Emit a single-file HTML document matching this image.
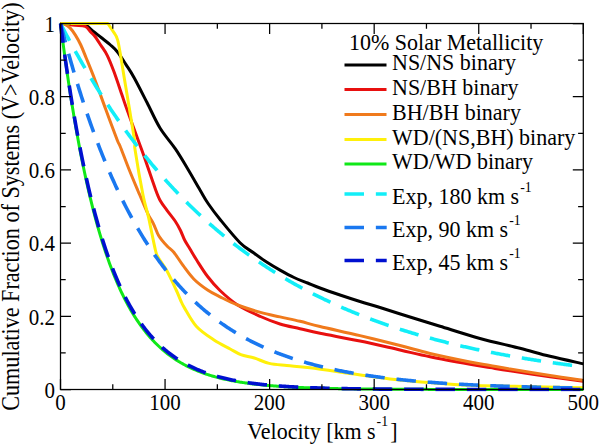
<!DOCTYPE html><html><head><meta charset="utf-8"><style>html,body{margin:0;padding:0;background:#fff;overflow:hidden}svg{display:block}.t{font-family:"Liberation Serif",serif}</style></head><body><svg width="600" height="444" viewBox="0 0 600 444">
<rect width="600" height="444" fill="#fff"/>
<defs><clipPath id="c"><rect x="58.5" y="20.5" width="526.8" height="371.0"/></clipPath></defs>
<g clip-path="url(#c)" fill="none" stroke-linejoin="round">
<path d="M60.50,23.50 C60.50,23.50 70.75,23.47 75.00,23.80 C79.25,24.13 82.93,24.22 86.00,25.50 C89.07,26.78 90.82,29.45 93.40,31.50 C95.98,33.55 98.65,35.55 101.50,37.80 C104.35,40.05 107.80,42.60 110.50,45.00 C113.20,47.40 115.12,48.93 117.70,52.20 C120.28,55.47 123.28,60.38 126.00,64.60 C128.72,68.82 130.50,71.18 134.00,77.50 C137.50,83.82 142.67,94.08 147.00,102.50 C151.33,110.92 155.27,120.27 160.00,128.00 C164.73,135.73 170.82,142.15 175.40,148.90 C179.98,155.65 183.40,161.65 187.50,168.50 C191.60,175.35 196.57,184.17 200.00,190.00 C203.43,195.83 204.72,198.55 208.10,203.50 C211.48,208.45 214.98,213.17 220.30,219.70 C225.62,226.23 234.47,237.18 240.00,242.70 C245.53,248.22 249.00,249.53 253.50,252.80 C258.00,256.07 262.50,259.37 267.00,262.30 C271.50,265.23 276.00,267.87 280.50,270.40 C285.00,272.93 289.48,275.40 294.00,277.50 C298.52,279.60 303.27,281.25 307.60,283.00 C311.93,284.75 314.60,286.00 320.00,288.00 C325.40,290.00 333.33,292.75 340.00,295.00 C346.67,297.25 353.33,299.42 360.00,301.50 C366.67,303.58 371.67,304.92 380.00,307.50 C388.33,310.08 400.00,313.87 410.00,317.00 C420.00,320.13 428.33,322.72 440.00,326.30 C451.67,329.88 466.67,334.83 480.00,338.50 C493.33,342.17 508.33,345.33 520.00,348.30 C531.67,351.27 539.45,353.72 550.00,356.30 C560.55,358.88 577.75,362.55 583.30,363.80" stroke="#000000" stroke-width="3.0"/>
<path d="M60.50,23.50 C60.50,23.50 63.58,23.90 66.00,24.20 C68.42,24.50 71.78,24.95 75.00,25.30 C78.22,25.65 82.68,25.18 85.30,26.30 C87.92,27.42 89.08,30.30 90.70,32.00 C92.32,33.70 93.28,34.25 95.00,36.50 C96.72,38.75 98.97,42.37 101.00,45.50 C103.03,48.63 105.05,50.97 107.20,55.30 C109.35,59.63 111.43,64.88 113.90,71.50 C116.37,78.12 119.98,89.12 122.00,95.00 C124.02,100.88 123.32,99.30 126.00,106.80 C128.68,114.30 135.05,131.63 138.10,140.00 C141.15,148.37 141.37,148.67 144.30,157.00 C147.23,165.33 153.03,182.70 155.70,190.00 C158.37,197.30 158.42,197.42 160.30,200.80 C162.18,204.18 164.53,206.93 167.00,210.30 C169.47,213.67 172.85,217.63 175.10,221.00 C177.35,224.37 178.92,227.33 180.50,230.50 C182.08,233.67 183.02,236.92 184.60,240.00 C186.18,243.08 187.97,245.62 190.00,249.00 C192.03,252.38 193.87,255.72 196.80,260.30 C199.73,264.88 203.73,271.47 207.60,276.50 C211.47,281.53 215.00,285.75 220.00,290.50 C225.00,295.25 230.85,300.67 237.60,305.00 C244.35,309.33 253.43,313.33 260.50,316.50 C267.57,319.67 273.42,321.97 280.00,324.00 C286.58,326.03 293.33,327.15 300.00,328.70 C306.67,330.25 310.00,331.25 320.00,333.30 C330.00,335.35 346.67,338.22 360.00,341.00 C373.33,343.78 388.33,347.37 400.00,350.00 C411.67,352.63 418.33,354.42 430.00,356.80 C441.67,359.18 460.00,362.50 470.00,364.30 C480.00,366.10 483.33,366.52 490.00,367.60 C496.67,368.68 500.00,369.27 510.00,370.80 C520.00,372.33 537.78,375.05 550.00,376.80 C562.22,378.55 577.75,380.55 583.30,381.30" stroke="#e8100f" stroke-width="3.0"/>
<path d="M60.50,23.50 C60.50,23.50 63.42,23.77 65.00,24.50 C66.58,25.23 68.27,26.13 70.00,27.90 C71.73,29.67 73.60,32.25 75.40,35.10 C77.20,37.95 79.00,41.18 80.80,45.00 C82.60,48.82 83.83,52.17 86.20,58.00 C88.57,63.83 91.70,71.33 95.00,80.00 C98.30,88.67 102.30,100.00 106.00,110.00 C109.70,120.00 114.87,134.00 117.20,140.00 C119.53,146.00 118.12,141.33 120.00,146.00 C121.88,150.67 125.57,160.67 128.50,168.00 C131.43,175.33 135.68,185.43 137.60,190.00 C139.52,194.57 138.25,191.35 140.00,195.40 C141.75,199.45 145.85,209.57 148.10,214.30 C150.35,219.03 151.70,220.18 153.50,223.80 C155.30,227.42 156.65,232.30 158.90,236.00 C161.15,239.70 164.52,243.30 167.00,246.00 C169.48,248.70 171.10,248.92 173.80,252.20 C176.50,255.48 179.83,261.20 183.20,265.70 C186.57,270.20 189.93,275.15 194.00,279.20 C198.07,283.25 203.27,287.07 207.60,290.00 C211.93,292.93 215.00,294.30 220.00,296.80 C225.00,299.30 230.85,302.40 237.60,305.00 C244.35,307.60 253.43,310.42 260.50,312.40 C267.57,314.38 273.42,315.42 280.00,316.90 C286.58,318.38 293.33,319.70 300.00,321.30 C306.67,322.90 310.00,324.12 320.00,326.50 C330.00,328.88 346.67,332.43 360.00,335.60 C373.33,338.77 388.33,342.52 400.00,345.50 C411.67,348.48 418.33,350.75 430.00,353.50 C441.67,356.25 460.00,360.00 470.00,362.00 C480.00,364.00 483.33,364.33 490.00,365.50 C496.67,366.67 500.00,367.33 510.00,369.00 C520.00,370.67 537.78,373.62 550.00,375.50 C562.22,377.38 577.75,379.50 583.30,380.30" stroke="#f07a1c" stroke-width="3.0"/>
<path d="M60.50,23.50 C60.50,23.50 107.80,23.50 107.80,23.50 C107.80,23.50 115.00,34.20 115.00,34.20 C115.00,34.20 116.80,36.53 117.80,40.50 C118.80,44.47 119.87,51.42 121.00,58.00 C122.13,64.58 122.35,66.33 124.60,80.00 C126.85,93.67 132.75,128.33 134.50,140.00 C136.25,151.67 133.68,140.83 135.10,150.00 C136.52,159.17 140.75,183.73 143.00,195.00 C145.25,206.27 146.53,208.43 148.60,217.60 C150.67,226.77 153.75,243.27 155.40,250.00 C157.05,256.73 156.57,254.50 158.50,258.00 C160.43,261.50 164.05,265.67 167.00,271.00 C169.95,276.33 173.95,285.17 176.20,290.00 C178.45,294.83 179.15,297.07 180.50,300.00 C181.85,302.93 181.63,303.18 184.30,307.60 C186.97,312.02 191.55,321.10 196.50,326.50 C201.45,331.90 208.38,336.25 214.00,340.00 C219.62,343.75 225.73,346.57 230.20,349.00 C234.67,351.43 236.78,353.10 240.80,354.60 C244.82,356.10 249.57,356.53 254.30,358.00 C259.03,359.47 263.78,362.13 269.20,363.40 C274.62,364.67 280.00,364.87 286.80,365.60 C293.60,366.33 298.22,366.32 310.00,367.80 C321.78,369.28 343.33,372.55 357.50,374.50 C371.67,376.45 382.50,378.12 395.00,379.50 C407.50,380.88 420.00,381.85 432.50,382.80 C445.00,383.75 456.25,384.62 470.00,385.20 C483.75,385.78 496.12,385.87 515.00,386.30 C533.88,386.73 571.92,387.55 583.30,387.80" stroke="#fff00a" stroke-width="3.0"/>
<path d="M60.50,23.50 L61.55,31.72 L62.59,39.76 L63.64,47.62 L64.68,55.31 L65.73,62.81 L66.77,70.16 L67.82,77.33 L68.86,84.35 L69.91,91.20 L70.96,97.91 L72.00,104.46 L73.05,110.86 L74.09,117.13 L75.14,123.25 L76.18,129.23 L77.23,135.08 L78.28,140.79 L79.32,146.38 L80.37,151.85 L81.41,157.19 L82.46,162.41 L83.50,167.51 L84.55,172.50 L85.59,177.37 L86.64,182.14 L87.69,186.80 L88.73,191.36 L89.78,195.81 L90.82,200.16 L91.87,204.42 L92.91,208.57 L93.96,212.64 L95.00,216.61 L96.05,220.50 L97.10,224.30 L98.14,228.01 L99.19,231.64 L100.23,235.18 L101.28,238.65 L102.32,242.04 L103.37,245.36 L104.42,248.59 L105.46,251.76 L106.51,254.86 L107.55,257.88 L108.60,260.84 L109.64,263.73 L110.69,266.56 L111.73,269.32 L112.78,272.02 L113.83,274.66 L114.87,277.24 L115.92,279.76 L116.96,282.23 L118.01,284.64 L119.05,287.00 L120.10,289.30 L121.14,291.55 L122.19,293.75 L123.24,295.90 L124.28,298.01 L125.33,300.06 L126.37,302.07 L127.42,304.04 L128.46,305.96 L129.51,307.83 L130.56,309.67 L131.60,311.46 L132.65,313.22 L133.69,314.93 L134.74,316.61 L135.78,318.24 L136.83,319.85 L137.87,321.41 L138.92,322.94 L139.97,324.44 L141.01,325.90 L142.06,327.33 L143.10,328.72 L144.15,330.09 L145.19,331.43 L146.24,332.73 L147.28,334.01 L148.33,335.25 L149.38,336.47 L150.42,337.66 L151.47,338.83 L152.51,339.97 L153.56,341.08 L154.60,342.17 L155.65,343.23 L156.70,344.27 L157.74,345.29 L158.79,346.28 L159.83,347.25 L160.88,348.20 L161.92,349.13 L162.97,350.04 L164.01,350.92 L165.06,351.79 L166.11,352.64 L167.15,353.47 L168.20,354.28 L169.24,355.07 L170.29,355.84 L171.33,356.60 L172.38,357.34 L173.42,358.06 L174.47,358.77 L175.52,359.46 L176.56,360.13 L177.61,360.79 L178.65,361.44 L179.70,362.07 L180.74,362.68 L181.79,363.29 L182.84,363.88 L183.88,364.45 L184.93,365.01 L185.97,365.56 L187.02,366.10 L188.06,366.63 L189.11,367.14 L190.15,367.64 L191.20,368.14 L192.25,368.62 L193.29,369.09 L194.34,369.54 L195.38,369.99 L196.43,370.43 L197.47,370.86 L198.52,371.28 L199.56,371.69 L200.61,372.09 L201.66,372.48 L202.70,372.86 L203.75,373.24 L204.79,373.60 L205.84,373.96 L206.88,374.31 L207.93,374.65 L208.98,374.98 L210.02,375.31 L211.07,375.63 L212.11,375.94 L213.16,376.24 L214.20,376.54 L215.25,376.83 L216.29,377.12 L217.34,377.40 L218.39,377.67 L219.43,377.93 L220.48,378.19 L221.52,378.45 L222.57,378.70 L223.61,378.94 L224.66,379.18 L225.70,379.41 L226.75,379.63 L227.80,379.86 L228.84,380.07 L229.89,380.29 L230.93,380.49 L231.98,380.69 L233.02,380.89 L234.07,381.09 L235.12,381.27 L236.16,381.46 L237.21,381.64 L238.25,381.82 L239.30,381.99 L240.34,382.16 L241.39,382.32 L242.43,382.48 L243.48,382.64 L244.53,382.80 L245.57,382.95 L246.62,383.09 L247.66,383.24 L248.71,383.38 L249.75,383.52 L250.80,383.65 L251.84,383.78 L252.89,383.91 L253.94,384.04 L254.98,384.16 L256.03,384.28 L257.07,384.40 L258.12,384.51 L259.16,384.62 L260.21,384.73 L261.26,384.84 L262.30,384.94 L263.35,385.05 L264.39,385.15 L265.44,385.25 L266.48,385.34 L267.53,385.43 L268.57,385.53 L269.62,385.61 L270.67,385.70 L271.71,385.79 L272.76,385.87 L273.80,385.95 L274.85,386.03 L275.89,386.11 L276.94,386.19 L277.98,386.26 L279.03,386.33 L280.08,386.40 L281.12,386.47 L282.17,386.54 L283.21,386.61 L284.26,386.67 L285.30,386.74 L286.35,386.80 L287.40,386.86 L288.44,386.92 L289.49,386.98 L290.53,387.03 L291.58,387.09 L292.62,387.14 L293.67,387.20 L294.71,387.25 L295.76,387.30 L296.81,387.35 L297.85,387.40 L298.90,387.44 L299.94,387.49 L300.99,387.54 L302.03,387.58 L303.08,387.62 L304.12,387.66 L305.17,387.71 L306.22,387.75 L307.26,387.79 L308.31,387.82 L309.35,387.86 L310.40,387.90 L311.44,387.93 L312.49,387.97 L313.54,388.00 L314.58,388.04 L315.63,388.07 L316.67,388.10 L317.72,388.13 L318.76,388.16 L319.81,388.19 L320.85,388.22 L321.90,388.25 L322.95,388.28 L323.99,388.31 L325.04,388.34 L326.08,388.36 L327.13,388.39 L328.17,388.41 L329.22,388.44 L330.26,388.46 L331.31,388.48 L332.36,388.51 L333.40,388.53 L334.45,388.55 L335.49,388.57 L336.54,388.59 L337.58,388.61 L338.63,388.63 L339.68,388.65 L340.72,388.67 L341.77,388.69 L342.81,388.71 L343.86,388.73 L344.90,388.74 L345.95,388.76 L346.99,388.78 L348.04,388.79 L349.09,388.81 L350.13,388.82 L351.18,388.84 L352.22,388.85 L353.27,388.87 L354.31,388.88 L355.36,388.90 L356.40,388.91 L357.45,388.92 L358.50,388.94 L359.54,388.95 L360.59,388.96 L361.63,388.97 L362.68,388.99 L363.72,389.00 L364.77,389.01 L365.82,389.02 L366.86,389.03 L367.91,389.04 L368.95,389.05 L370.00,389.06 L371.04,389.07 L372.09,389.08 L373.13,389.09 L374.18,389.10 L375.23,389.11 L376.27,389.12 L377.32,389.13 L378.36,389.13 L379.41,389.14 L380.45,389.15 L381.50,389.16 L382.54,389.17 L383.59,389.17 L384.64,389.18 L385.68,389.19 L386.73,389.20 L387.77,389.20 L388.82,389.21 L389.86,389.22 L390.91,389.22 L391.96,389.23 L393.00,389.23 L394.05,389.24 L395.09,389.25 L396.14,389.25 L397.18,389.26 L398.23,389.26 L399.27,389.27 L400.32,389.27 L401.37,389.28 L402.41,389.28 L403.46,389.29 L404.50,389.29 L405.55,389.30 L406.59,389.30 L407.64,389.31 L408.68,389.31 L409.73,389.32 L410.78,389.32 L411.82,389.32 L412.87,389.33 L413.91,389.33 L414.96,389.34 L416.00,389.34 L417.05,389.34 L418.10,389.35 L419.14,389.35 L420.19,389.35 L421.23,389.36 L422.28,389.36 L423.32,389.36 L424.37,389.37 L425.41,389.37 L426.46,389.37 L427.51,389.37 L428.55,389.38 L429.60,389.38 L430.64,389.38 L431.69,389.39 L432.73,389.39 L433.78,389.39 L434.82,389.39 L435.87,389.40 L436.92,389.40 L437.96,389.40 L439.01,389.40 L440.05,389.40 L441.10,389.41 L442.14,389.41 L443.19,389.41 L444.24,389.41 L445.28,389.41 L446.33,389.42 L447.37,389.42 L448.42,389.42 L449.46,389.42 L450.51,389.42 L451.55,389.43 L452.60,389.43 L453.65,389.43 L454.69,389.43 L455.74,389.43 L456.78,389.43 L457.83,389.44 L458.87,389.44 L459.92,389.44 L460.96,389.44 L462.01,389.44 L463.06,389.44 L464.10,389.44 L465.15,389.44 L466.19,389.45 L467.24,389.45 L468.28,389.45 L469.33,389.45 L470.38,389.45 L471.42,389.45 L472.47,389.45 L473.51,389.45 L474.56,389.45 L475.60,389.46 L476.65,389.46 L477.69,389.46 L478.74,389.46 L479.79,389.46 L480.83,389.46 L481.88,389.46 L482.92,389.46 L483.97,389.46 L485.01,389.46 L486.06,389.46 L487.10,389.47 L488.15,389.47 L489.20,389.47 L490.24,389.47 L491.29,389.47 L492.33,389.47 L493.38,389.47 L494.42,389.47 L495.47,389.47 L496.52,389.47 L497.56,389.47 L498.61,389.47 L499.65,389.47 L500.70,389.47 L501.74,389.47 L502.79,389.48 L503.83,389.48 L504.88,389.48 L505.93,389.48 L506.97,389.48 L508.02,389.48 L509.06,389.48 L510.11,389.48 L511.15,389.48 L512.20,389.48 L513.24,389.48 L514.29,389.48 L515.34,389.48 L516.38,389.48 L517.43,389.48 L518.47,389.48 L519.52,389.48 L520.56,389.48 L521.61,389.48 L522.66,389.48 L523.70,389.48 L524.75,389.48 L525.79,389.49 L526.84,389.49 L527.88,389.49 L528.93,389.49 L529.97,389.49 L531.02,389.49 L532.07,389.49 L533.11,389.49 L534.16,389.49 L535.20,389.49 L536.25,389.49 L537.29,389.49 L538.34,389.49 L539.38,389.49 L540.43,389.49 L541.48,389.49 L542.52,389.49 L543.57,389.49 L544.61,389.49 L545.66,389.49 L546.70,389.49 L547.75,389.49 L548.80,389.49 L549.84,389.49 L550.89,389.49 L551.93,389.49 L552.98,389.49 L554.02,389.49 L555.07,389.49 L556.11,389.49 L557.16,389.49 L558.21,389.49 L559.25,389.49 L560.30,389.49 L561.34,389.49 L562.39,389.49 L563.43,389.49 L564.48,389.49 L565.52,389.49 L566.57,389.49 L567.62,389.49 L568.66,389.49 L569.71,389.49 L570.75,389.49 L571.80,389.49 L572.84,389.49 L573.89,389.49 L574.94,389.49 L575.98,389.50 L577.03,389.50 L578.07,389.50 L579.12,389.50 L580.16,389.50 L581.21,389.50 L582.25,389.50 L583.30,389.50" stroke="#10e818" stroke-width="3.0"/>
<path d="M60.50,23.50 L61.55,25.53 L62.59,27.54 L63.64,29.55 L64.68,31.54 L65.73,33.53 L66.77,35.50 L67.82,37.46 L68.86,39.41 L69.91,41.35 L70.96,43.28 L72.00,45.20 L73.05,47.10 L74.09,49.00 L75.14,50.89 L76.18,52.76 L77.23,54.63 L78.28,56.48 L79.32,58.33 L80.37,60.16 L81.41,61.99 L82.46,63.80 L83.50,65.61 L84.55,67.40 L85.59,69.19 L86.64,70.96 L87.69,72.73 L88.73,74.48 L89.78,76.23 L90.82,77.96 L91.87,79.69 L92.91,81.40 L93.96,83.11 L95.00,84.81 L96.05,86.50 L97.10,88.18 L98.14,89.84 L99.19,91.50 L100.23,93.16 L101.28,94.80 L102.32,96.43 L103.37,98.05 L104.42,99.67 L105.46,101.27 L106.51,102.87 L107.55,104.46 L108.60,106.04 L109.64,107.61 L110.69,109.17 L111.73,110.72 L112.78,112.27 L113.83,113.80 L114.87,115.33 L115.92,116.85 L116.96,118.36 L118.01,119.86 L119.05,121.36 L120.10,122.84 L121.14,124.32 L122.19,125.79 L123.24,127.25 L124.28,128.70 L125.33,130.15 L126.37,131.58 L127.42,133.01 L128.46,134.43 L129.51,135.85 L130.56,137.25 L131.60,138.65 L132.65,140.04 L133.69,141.42 L134.74,142.80 L135.78,144.16 L136.83,145.52 L137.87,146.87 L138.92,148.22 L139.97,149.55 L141.01,150.88 L142.06,152.21 L143.10,153.52 L144.15,154.83 L145.19,156.13 L146.24,157.42 L147.28,158.71 L148.33,159.99 L149.38,161.26 L150.42,162.52 L151.47,163.78 L152.51,165.03 L153.56,166.27 L154.60,167.51 L155.65,168.74 L156.70,169.96 L157.74,171.18 L158.79,172.39 L159.83,173.59 L160.88,174.79 L161.92,175.98 L162.97,177.16 L164.01,178.34 L165.06,179.51 L166.11,180.67 L167.15,181.83 L168.20,182.98 L169.24,184.12 L170.29,185.26 L171.33,186.39 L172.38,187.52 L173.42,188.63 L174.47,189.75 L175.52,190.85 L176.56,191.95 L177.61,193.05 L178.65,194.14 L179.70,195.22 L180.74,196.30 L181.79,197.37 L182.84,198.43 L183.88,199.49 L184.93,200.54 L185.97,201.59 L187.02,202.63 L188.06,203.67 L189.11,204.70 L190.15,205.72 L191.20,206.74 L192.25,207.75 L193.29,208.76 L194.34,209.76 L195.38,210.75 L196.43,211.74 L197.47,212.73 L198.52,213.71 L199.56,214.68 L200.61,215.65 L201.66,216.61 L202.70,217.57 L203.75,218.52 L204.79,219.47 L205.84,220.41 L206.88,221.35 L207.93,222.28 L208.98,223.21 L210.02,224.13 L211.07,225.05 L212.11,225.96 L213.16,226.86 L214.20,227.76 L215.25,228.66 L216.29,229.55 L217.34,230.44 L218.39,231.32 L219.43,232.19 L220.48,233.07 L221.52,233.93 L222.57,234.79 L223.61,235.65 L224.66,236.50 L225.70,237.35 L226.75,238.19 L227.80,239.03 L228.84,239.87 L229.89,240.70 L230.93,241.52 L231.98,242.34 L233.02,243.16 L234.07,243.97 L235.12,244.77 L236.16,245.57 L237.21,246.37 L238.25,247.16 L239.30,247.95 L240.34,248.74 L241.39,249.52 L242.43,250.29 L243.48,251.06 L244.53,251.83 L245.57,252.59 L246.62,253.35 L247.66,254.11 L248.71,254.86 L249.75,255.60 L250.80,256.34 L251.84,257.08 L252.89,257.82 L253.94,258.54 L254.98,259.27 L256.03,259.99 L257.07,260.71 L258.12,261.42 L259.16,262.13 L260.21,262.84 L261.26,263.54 L262.30,264.24 L263.35,264.93 L264.39,265.62 L265.44,266.31 L266.48,266.99 L267.53,267.67 L268.57,268.34 L269.62,269.02 L270.67,269.68 L271.71,270.35 L272.76,271.01 L273.80,271.66 L274.85,272.32 L275.89,272.97 L276.94,273.61 L277.98,274.25 L279.03,274.89 L280.08,275.53 L281.12,276.16 L282.17,276.79 L283.21,277.41 L284.26,278.03 L285.30,278.65 L286.35,279.26 L287.40,279.87 L288.44,280.48 L289.49,281.08 L290.53,281.69 L291.58,282.28 L292.62,282.88 L293.67,283.47 L294.71,284.06 L295.76,284.64 L296.81,285.22 L297.85,285.80 L298.90,286.37 L299.94,286.94 L300.99,287.51 L302.03,288.08 L303.08,288.64 L304.12,289.20 L305.17,289.75 L306.22,290.31 L307.26,290.86 L308.31,291.40 L309.35,291.95 L310.40,292.49 L311.44,293.02 L312.49,293.56 L313.54,294.09 L314.58,294.62 L315.63,295.14 L316.67,295.67 L317.72,296.19 L318.76,296.70 L319.81,297.22 L320.85,297.73 L321.90,298.24 L322.95,298.74 L323.99,299.25 L325.04,299.75 L326.08,300.24 L327.13,300.74 L328.17,301.23 L329.22,301.72 L330.26,302.20 L331.31,302.69 L332.36,303.17 L333.40,303.65 L334.45,304.12 L335.49,304.60 L336.54,305.07 L337.58,305.53 L338.63,306.00 L339.68,306.46 L340.72,306.92 L341.77,307.38 L342.81,307.83 L343.86,308.29 L344.90,308.74 L345.95,309.18 L346.99,309.63 L348.04,310.07 L349.09,310.51 L350.13,310.95 L351.18,311.38 L352.22,311.82 L353.27,312.25 L354.31,312.68 L355.36,313.10 L356.40,313.52 L357.45,313.95 L358.50,314.36 L359.54,314.78 L360.59,315.19 L361.63,315.61 L362.68,316.02 L363.72,316.42 L364.77,316.83 L365.82,317.23 L366.86,317.63 L367.91,318.03 L368.95,318.42 L370.00,318.82 L371.04,319.21 L372.09,319.60 L373.13,319.99 L374.18,320.37 L375.23,320.75 L376.27,321.14 L377.32,321.51 L378.36,321.89 L379.41,322.27 L380.45,322.64 L381.50,323.01 L382.54,323.38 L383.59,323.74 L384.64,324.11 L385.68,324.47 L386.73,324.83 L387.77,325.19 L388.82,325.54 L389.86,325.90 L390.91,326.25 L391.96,326.60 L393.00,326.95 L394.05,327.30 L395.09,327.64 L396.14,327.98 L397.18,328.32 L398.23,328.66 L399.27,329.00 L400.32,329.34 L401.37,329.67 L402.41,330.00 L403.46,330.33 L404.50,330.66 L405.55,330.98 L406.59,331.31 L407.64,331.63 L408.68,331.95 L409.73,332.27 L410.78,332.59 L411.82,332.90 L412.87,333.22 L413.91,333.53 L414.96,333.84 L416.00,334.15 L417.05,334.45 L418.10,334.76 L419.14,335.06 L420.19,335.36 L421.23,335.66 L422.28,335.96 L423.32,336.26 L424.37,336.55 L425.41,336.85 L426.46,337.14 L427.51,337.43 L428.55,337.72 L429.60,338.00 L430.64,338.29 L431.69,338.57 L432.73,338.85 L433.78,339.13 L434.82,339.41 L435.87,339.69 L436.92,339.97 L437.96,340.24 L439.01,340.51 L440.05,340.79 L441.10,341.06 L442.14,341.32 L443.19,341.59 L444.24,341.86 L445.28,342.12 L446.33,342.38 L447.37,342.64 L448.42,342.90 L449.46,343.16 L450.51,343.42 L451.55,343.67 L452.60,343.93 L453.65,344.18 L454.69,344.43 L455.74,344.68 L456.78,344.93 L457.83,345.18 L458.87,345.42 L459.92,345.67 L460.96,345.91 L462.01,346.15 L463.06,346.39 L464.10,346.63 L465.15,346.87 L466.19,347.10 L467.24,347.34 L468.28,347.57 L469.33,347.80 L470.38,348.03 L471.42,348.26 L472.47,348.49 L473.51,348.72 L474.56,348.95 L475.60,349.17 L476.65,349.39 L477.69,349.62 L478.74,349.84 L479.79,350.06 L480.83,350.28 L481.88,350.49 L482.92,350.71 L483.97,350.92 L485.01,351.14 L486.06,351.35 L487.10,351.56 L488.15,351.77 L489.20,351.98 L490.24,352.19 L491.29,352.40 L492.33,352.60 L493.38,352.81 L494.42,353.01 L495.47,353.21 L496.52,353.41 L497.56,353.61 L498.61,353.81 L499.65,354.01 L500.70,354.20 L501.74,354.40 L502.79,354.59 L503.83,354.79 L504.88,354.98 L505.93,355.17 L506.97,355.36 L508.02,355.55 L509.06,355.74 L510.11,355.93 L511.15,356.11 L512.20,356.30 L513.24,356.48 L514.29,356.66 L515.34,356.85 L516.38,357.03 L517.43,357.21 L518.47,357.39 L519.52,357.56 L520.56,357.74 L521.61,357.92 L522.66,358.09 L523.70,358.27 L524.75,358.44 L525.79,358.61 L526.84,358.78 L527.88,358.95 L528.93,359.12 L529.97,359.29 L531.02,359.46 L532.07,359.62 L533.11,359.79 L534.16,359.95 L535.20,360.12 L536.25,360.28 L537.29,360.44 L538.34,360.60 L539.38,360.76 L540.43,360.92 L541.48,361.08 L542.52,361.24 L543.57,361.39 L544.61,361.55 L545.66,361.71 L546.70,361.86 L547.75,362.01 L548.80,362.16 L549.84,362.32 L550.89,362.47 L551.93,362.62 L552.98,362.77 L554.02,362.91 L555.07,363.06 L556.11,363.21 L557.16,363.35 L558.21,363.50 L559.25,363.64 L560.30,363.78 L561.34,363.93 L562.39,364.07 L563.43,364.21 L564.48,364.35 L565.52,364.49 L566.57,364.63 L567.62,364.77 L568.66,364.90 L569.71,365.04 L570.75,365.17 L571.80,365.31 L572.84,365.44 L573.89,365.58 L574.94,365.71 L575.98,365.84 L577.03,365.97 L578.07,366.10 L579.12,366.23 L580.16,366.36 L581.21,366.49 L582.25,366.62 L583.30,366.74" stroke="#12eef8" stroke-width="3.6" stroke-dasharray="19.5 11.85"/>
<path d="M60.50,23.50 L61.55,27.54 L62.59,31.54 L63.64,35.50 L64.68,39.41 L65.73,43.28 L66.77,47.10 L67.82,50.89 L68.86,54.63 L69.91,58.33 L70.96,61.99 L72.00,65.61 L73.05,69.19 L74.09,72.73 L75.14,76.23 L76.18,79.69 L77.23,83.11 L78.28,86.50 L79.32,89.84 L80.37,93.16 L81.41,96.43 L82.46,99.67 L83.50,102.87 L84.55,106.04 L85.59,109.17 L86.64,112.27 L87.69,115.33 L88.73,118.36 L89.78,121.36 L90.82,124.32 L91.87,127.25 L92.91,130.15 L93.96,133.01 L95.00,135.85 L96.05,138.65 L97.10,141.42 L98.14,144.16 L99.19,146.87 L100.23,149.55 L101.28,152.21 L102.32,154.83 L103.37,157.42 L104.42,159.99 L105.46,162.52 L106.51,165.03 L107.55,167.51 L108.60,169.96 L109.64,172.39 L110.69,174.79 L111.73,177.16 L112.78,179.51 L113.83,181.83 L114.87,184.12 L115.92,186.39 L116.96,188.63 L118.01,190.85 L119.05,193.05 L120.10,195.22 L121.14,197.37 L122.19,199.49 L123.24,201.59 L124.28,203.67 L125.33,205.72 L126.37,207.75 L127.42,209.76 L128.46,211.74 L129.51,213.71 L130.56,215.65 L131.60,217.57 L132.65,219.47 L133.69,221.35 L134.74,223.21 L135.78,225.05 L136.83,226.86 L137.87,228.66 L138.92,230.44 L139.97,232.19 L141.01,233.93 L142.06,235.65 L143.10,237.35 L144.15,239.03 L145.19,240.70 L146.24,242.34 L147.28,243.97 L148.33,245.57 L149.38,247.16 L150.42,248.74 L151.47,250.29 L152.51,251.83 L153.56,253.35 L154.60,254.86 L155.65,256.34 L156.70,257.82 L157.74,259.27 L158.79,260.71 L159.83,262.13 L160.88,263.54 L161.92,264.93 L162.97,266.31 L164.01,267.67 L165.06,269.02 L166.11,270.35 L167.15,271.66 L168.20,272.97 L169.24,274.25 L170.29,275.53 L171.33,276.79 L172.38,278.03 L173.42,279.26 L174.47,280.48 L175.52,281.69 L176.56,282.88 L177.61,284.06 L178.65,285.22 L179.70,286.37 L180.74,287.51 L181.79,288.64 L182.84,289.75 L183.88,290.86 L184.93,291.95 L185.97,293.02 L187.02,294.09 L188.06,295.14 L189.11,296.19 L190.15,297.22 L191.20,298.24 L192.25,299.25 L193.29,300.24 L194.34,301.23 L195.38,302.20 L196.43,303.17 L197.47,304.12 L198.52,305.07 L199.56,306.00 L200.61,306.92 L201.66,307.83 L202.70,308.74 L203.75,309.63 L204.79,310.51 L205.84,311.38 L206.88,312.25 L207.93,313.10 L208.98,313.95 L210.02,314.78 L211.07,315.61 L212.11,316.42 L213.16,317.23 L214.20,318.03 L215.25,318.82 L216.29,319.60 L217.34,320.37 L218.39,321.14 L219.43,321.89 L220.48,322.64 L221.52,323.38 L222.57,324.11 L223.61,324.83 L224.66,325.54 L225.70,326.25 L226.75,326.95 L227.80,327.64 L228.84,328.32 L229.89,329.00 L230.93,329.67 L231.98,330.33 L233.02,330.98 L234.07,331.63 L235.12,332.27 L236.16,332.90 L237.21,333.53 L238.25,334.15 L239.30,334.76 L240.34,335.36 L241.39,335.96 L242.43,336.55 L243.48,337.14 L244.53,337.72 L245.57,338.29 L246.62,338.85 L247.66,339.41 L248.71,339.97 L249.75,340.51 L250.80,341.06 L251.84,341.59 L252.89,342.12 L253.94,342.64 L254.98,343.16 L256.03,343.67 L257.07,344.18 L258.12,344.68 L259.16,345.18 L260.21,345.67 L261.26,346.15 L262.30,346.63 L263.35,347.10 L264.39,347.57 L265.44,348.03 L266.48,348.49 L267.53,348.95 L268.57,349.39 L269.62,349.84 L270.67,350.28 L271.71,350.71 L272.76,351.14 L273.80,351.56 L274.85,351.98 L275.89,352.40 L276.94,352.81 L277.98,353.21 L279.03,353.61 L280.08,354.01 L281.12,354.40 L282.17,354.79 L283.21,355.17 L284.26,355.55 L285.30,355.93 L286.35,356.30 L287.40,356.66 L288.44,357.03 L289.49,357.39 L290.53,357.74 L291.58,358.09 L292.62,358.44 L293.67,358.78 L294.71,359.12 L295.76,359.46 L296.81,359.79 L297.85,360.12 L298.90,360.44 L299.94,360.76 L300.99,361.08 L302.03,361.39 L303.08,361.71 L304.12,362.01 L305.17,362.32 L306.22,362.62 L307.26,362.91 L308.31,363.21 L309.35,363.50 L310.40,363.78 L311.44,364.07 L312.49,364.35 L313.54,364.63 L314.58,364.90 L315.63,365.17 L316.67,365.44 L317.72,365.71 L318.76,365.97 L319.81,366.23 L320.85,366.49 L321.90,366.74 L322.95,366.99 L323.99,367.24 L325.04,367.49 L326.08,367.73 L327.13,367.97 L328.17,368.21 L329.22,368.45 L330.26,368.68 L331.31,368.91 L332.36,369.14 L333.40,369.36 L334.45,369.58 L335.49,369.80 L336.54,370.02 L337.58,370.24 L338.63,370.45 L339.68,370.66 L340.72,370.87 L341.77,371.07 L342.81,371.28 L343.86,371.48 L344.90,371.68 L345.95,371.88 L346.99,372.07 L348.04,372.26 L349.09,372.45 L350.13,372.64 L351.18,372.83 L352.22,373.01 L353.27,373.19 L354.31,373.37 L355.36,373.55 L356.40,373.73 L357.45,373.90 L358.50,374.08 L359.54,374.25 L360.59,374.41 L361.63,374.58 L362.68,374.75 L363.72,374.91 L364.77,375.07 L365.82,375.23 L366.86,375.39 L367.91,375.54 L368.95,375.70 L370.00,375.85 L371.04,376.00 L372.09,376.15 L373.13,376.30 L374.18,376.44 L375.23,376.59 L376.27,376.73 L377.32,376.87 L378.36,377.01 L379.41,377.15 L380.45,377.29 L381.50,377.42 L382.54,377.55 L383.59,377.69 L384.64,377.82 L385.68,377.95 L386.73,378.07 L387.77,378.20 L388.82,378.32 L389.86,378.45 L390.91,378.57 L391.96,378.69 L393.00,378.81 L394.05,378.93 L395.09,379.05 L396.14,379.16 L397.18,379.27 L398.23,379.39 L399.27,379.50 L400.32,379.61 L401.37,379.72 L402.41,379.83 L403.46,379.93 L404.50,380.04 L405.55,380.14 L406.59,380.25 L407.64,380.35 L408.68,380.45 L409.73,380.55 L410.78,380.65 L411.82,380.75 L412.87,380.84 L413.91,380.94 L414.96,381.03 L416.00,381.13 L417.05,381.22 L418.10,381.31 L419.14,381.40 L420.19,381.49 L421.23,381.58 L422.28,381.67 L423.32,381.75 L424.37,381.84 L425.41,381.92 L426.46,382.01 L427.51,382.09 L428.55,382.17 L429.60,382.25 L430.64,382.33 L431.69,382.41 L432.73,382.49 L433.78,382.57 L434.82,382.65 L435.87,382.72 L436.92,382.80 L437.96,382.87 L439.01,382.94 L440.05,383.02 L441.10,383.09 L442.14,383.16 L443.19,383.23 L444.24,383.30 L445.28,383.37 L446.33,383.43 L447.37,383.50 L448.42,383.57 L449.46,383.63 L450.51,383.70 L451.55,383.76 L452.60,383.83 L453.65,383.89 L454.69,383.95 L455.74,384.01 L456.78,384.07 L457.83,384.13 L458.87,384.19 L459.92,384.25 L460.96,384.31 L462.01,384.37 L463.06,384.42 L464.10,384.48 L465.15,384.53 L466.19,384.59 L467.24,384.64 L468.28,384.70 L469.33,384.75 L470.38,384.80 L471.42,384.85 L472.47,384.91 L473.51,384.96 L474.56,385.01 L475.60,385.06 L476.65,385.11 L477.69,385.15 L478.74,385.20 L479.79,385.25 L480.83,385.30 L481.88,385.34 L482.92,385.39 L483.97,385.43 L485.01,385.48 L486.06,385.52 L487.10,385.57 L488.15,385.61 L489.20,385.65 L490.24,385.70 L491.29,385.74 L492.33,385.78 L493.38,385.82 L494.42,385.86 L495.47,385.90 L496.52,385.94 L497.56,385.98 L498.61,386.02 L499.65,386.06 L500.70,386.10 L501.74,386.13 L502.79,386.17 L503.83,386.21 L504.88,386.24 L505.93,386.28 L506.97,386.32 L508.02,386.35 L509.06,386.39 L510.11,386.42 L511.15,386.45 L512.20,386.49 L513.24,386.52 L514.29,386.55 L515.34,386.59 L516.38,386.62 L517.43,386.65 L518.47,386.68 L519.52,386.71 L520.56,386.74 L521.61,386.77 L522.66,386.80 L523.70,386.83 L524.75,386.86 L525.79,386.89 L526.84,386.92 L527.88,386.95 L528.93,386.98 L529.97,387.01 L531.02,387.03 L532.07,387.06 L533.11,387.09 L534.16,387.11 L535.20,387.14 L536.25,387.17 L537.29,387.19 L538.34,387.22 L539.38,387.24 L540.43,387.27 L541.48,387.29 L542.52,387.32 L543.57,387.34 L544.61,387.37 L545.66,387.39 L546.70,387.41 L547.75,387.44 L548.80,387.46 L549.84,387.48 L550.89,387.50 L551.93,387.53 L552.98,387.55 L554.02,387.57 L555.07,387.59 L556.11,387.61 L557.16,387.63 L558.21,387.65 L559.25,387.67 L560.30,387.69 L561.34,387.71 L562.39,387.73 L563.43,387.75 L564.48,387.77 L565.52,387.79 L566.57,387.81 L567.62,387.83 L568.66,387.85 L569.71,387.87 L570.75,387.88 L571.80,387.90 L572.84,387.92 L573.89,387.94 L574.94,387.95 L575.98,387.97 L577.03,387.99 L578.07,388.00 L579.12,388.02 L580.16,388.04 L581.21,388.05 L582.25,388.07 L583.30,388.09" stroke="#1a78f0" stroke-width="3.6" stroke-dasharray="19.5 11.85"/>
<path d="M60.50,23.50 L61.55,31.54 L62.59,39.41 L63.64,47.10 L64.68,54.63 L65.73,61.99 L66.77,69.19 L67.82,76.23 L68.86,83.11 L69.91,89.84 L70.96,96.43 L72.00,102.87 L73.05,109.17 L74.09,115.33 L75.14,121.36 L76.18,127.25 L77.23,133.01 L78.28,138.65 L79.32,144.16 L80.37,149.55 L81.41,154.83 L82.46,159.99 L83.50,165.03 L84.55,169.96 L85.59,174.79 L86.64,179.51 L87.69,184.12 L88.73,188.63 L89.78,193.05 L90.82,197.37 L91.87,201.59 L92.91,205.72 L93.96,209.76 L95.00,213.71 L96.05,217.57 L97.10,221.35 L98.14,225.05 L99.19,228.66 L100.23,232.19 L101.28,235.65 L102.32,239.03 L103.37,242.34 L104.42,245.57 L105.46,248.74 L106.51,251.83 L107.55,254.86 L108.60,257.82 L109.64,260.71 L110.69,263.54 L111.73,266.31 L112.78,269.02 L113.83,271.66 L114.87,274.25 L115.92,276.79 L116.96,279.26 L118.01,281.69 L119.05,284.06 L120.10,286.37 L121.14,288.64 L122.19,290.86 L123.24,293.02 L124.28,295.14 L125.33,297.22 L126.37,299.25 L127.42,301.23 L128.46,303.17 L129.51,305.07 L130.56,306.92 L131.60,308.74 L132.65,310.51 L133.69,312.25 L134.74,313.95 L135.78,315.61 L136.83,317.23 L137.87,318.82 L138.92,320.37 L139.97,321.89 L141.01,323.38 L142.06,324.83 L143.10,326.25 L144.15,327.64 L145.19,329.00 L146.24,330.33 L147.28,331.63 L148.33,332.90 L149.38,334.15 L150.42,335.36 L151.47,336.55 L152.51,337.72 L153.56,338.85 L154.60,339.97 L155.65,341.06 L156.70,342.12 L157.74,343.16 L158.79,344.18 L159.83,345.18 L160.88,346.15 L161.92,347.10 L162.97,348.03 L164.01,348.95 L165.06,349.84 L166.11,350.71 L167.15,351.56 L168.20,352.40 L169.24,353.21 L170.29,354.01 L171.33,354.79 L172.38,355.55 L173.42,356.30 L174.47,357.03 L175.52,357.74 L176.56,358.44 L177.61,359.12 L178.65,359.79 L179.70,360.44 L180.74,361.08 L181.79,361.71 L182.84,362.32 L183.88,362.91 L184.93,363.50 L185.97,364.07 L187.02,364.63 L188.06,365.17 L189.11,365.71 L190.15,366.23 L191.20,366.74 L192.25,367.24 L193.29,367.73 L194.34,368.21 L195.38,368.68 L196.43,369.14 L197.47,369.58 L198.52,370.02 L199.56,370.45 L200.61,370.87 L201.66,371.28 L202.70,371.68 L203.75,372.07 L204.79,372.45 L205.84,372.83 L206.88,373.19 L207.93,373.55 L208.98,373.90 L210.02,374.25 L211.07,374.58 L212.11,374.91 L213.16,375.23 L214.20,375.54 L215.25,375.85 L216.29,376.15 L217.34,376.44 L218.39,376.73 L219.43,377.01 L220.48,377.29 L221.52,377.55 L222.57,377.82 L223.61,378.07 L224.66,378.32 L225.70,378.57 L226.75,378.81 L227.80,379.05 L228.84,379.27 L229.89,379.50 L230.93,379.72 L231.98,379.93 L233.02,380.14 L234.07,380.35 L235.12,380.55 L236.16,380.75 L237.21,380.94 L238.25,381.13 L239.30,381.31 L240.34,381.49 L241.39,381.67 L242.43,381.84 L243.48,382.01 L244.53,382.17 L245.57,382.33 L246.62,382.49 L247.66,382.65 L248.71,382.80 L249.75,382.94 L250.80,383.09 L251.84,383.23 L252.89,383.37 L253.94,383.50 L254.98,383.63 L256.03,383.76 L257.07,383.89 L258.12,384.01 L259.16,384.13 L260.21,384.25 L261.26,384.37 L262.30,384.48 L263.35,384.59 L264.39,384.70 L265.44,384.80 L266.48,384.91 L267.53,385.01 L268.57,385.11 L269.62,385.20 L270.67,385.30 L271.71,385.39 L272.76,385.48 L273.80,385.57 L274.85,385.65 L275.89,385.74 L276.94,385.82 L277.98,385.90 L279.03,385.98 L280.08,386.06 L281.12,386.13 L282.17,386.21 L283.21,386.28 L284.26,386.35 L285.30,386.42 L286.35,386.49 L287.40,386.55 L288.44,386.62 L289.49,386.68 L290.53,386.74 L291.58,386.80 L292.62,386.86 L293.67,386.92 L294.71,386.98 L295.76,387.03 L296.81,387.09 L297.85,387.14 L298.90,387.19 L299.94,387.24 L300.99,387.29 L302.03,387.34 L303.08,387.39 L304.12,387.44 L305.17,387.48 L306.22,387.53 L307.26,387.57 L308.31,387.61 L309.35,387.65 L310.40,387.69 L311.44,387.73 L312.49,387.77 L313.54,387.81 L314.58,387.85 L315.63,387.88 L316.67,387.92 L317.72,387.95 L318.76,387.99 L319.81,388.02 L320.85,388.05 L321.90,388.09 L322.95,388.12 L323.99,388.15 L325.04,388.18 L326.08,388.21 L327.13,388.23 L328.17,388.26 L329.22,388.29 L330.26,388.32 L331.31,388.34 L332.36,388.37 L333.40,388.39 L334.45,388.42 L335.49,388.44 L336.54,388.46 L337.58,388.49 L338.63,388.51 L339.68,388.53 L340.72,388.55 L341.77,388.57 L342.81,388.59 L343.86,388.61 L344.90,388.63 L345.95,388.65 L346.99,388.67 L348.04,388.69 L349.09,388.71 L350.13,388.72 L351.18,388.74 L352.22,388.76 L353.27,388.77 L354.31,388.79 L355.36,388.81 L356.40,388.82 L357.45,388.84 L358.50,388.85 L359.54,388.86 L360.59,388.88 L361.63,388.89 L362.68,388.91 L363.72,388.92 L364.77,388.93 L365.82,388.94 L366.86,388.96 L367.91,388.97 L368.95,388.98 L370.00,388.99 L371.04,389.00 L372.09,389.01 L373.13,389.02 L374.18,389.03 L375.23,389.04 L376.27,389.05 L377.32,389.06 L378.36,389.07 L379.41,389.08 L380.45,389.09 L381.50,389.10 L382.54,389.11 L383.59,389.12 L384.64,389.13 L385.68,389.14 L386.73,389.14 L387.77,389.15 L388.82,389.16 L389.86,389.17 L390.91,389.17 L391.96,389.18 L393.00,389.19 L394.05,389.19 L395.09,389.20 L396.14,389.21 L397.18,389.21 L398.23,389.22 L399.27,389.23 L400.32,389.23 L401.37,389.24 L402.41,389.24 L403.46,389.25 L404.50,389.26 L405.55,389.26 L406.59,389.27 L407.64,389.27 L408.68,389.28 L409.73,389.28 L410.78,389.29 L411.82,389.29 L412.87,389.30 L413.91,389.30 L414.96,389.30 L416.00,389.31 L417.05,389.31 L418.10,389.32 L419.14,389.32 L420.19,389.32 L421.23,389.33 L422.28,389.33 L423.32,389.34 L424.37,389.34 L425.41,389.34 L426.46,389.35 L427.51,389.35 L428.55,389.35 L429.60,389.36 L430.64,389.36 L431.69,389.36 L432.73,389.37 L433.78,389.37 L434.82,389.37 L435.87,389.37 L436.92,389.38 L437.96,389.38 L439.01,389.38 L440.05,389.39 L441.10,389.39 L442.14,389.39 L443.19,389.39 L444.24,389.39 L445.28,389.40 L446.33,389.40 L447.37,389.40 L448.42,389.40 L449.46,389.41 L450.51,389.41 L451.55,389.41 L452.60,389.41 L453.65,389.41 L454.69,389.42 L455.74,389.42 L456.78,389.42 L457.83,389.42 L458.87,389.42 L459.92,389.42 L460.96,389.43 L462.01,389.43 L463.06,389.43 L464.10,389.43 L465.15,389.43 L466.19,389.43 L467.24,389.44 L468.28,389.44 L469.33,389.44 L470.38,389.44 L471.42,389.44 L472.47,389.44 L473.51,389.44 L474.56,389.44 L475.60,389.45 L476.65,389.45 L477.69,389.45 L478.74,389.45 L479.79,389.45 L480.83,389.45 L481.88,389.45 L482.92,389.45 L483.97,389.45 L485.01,389.46 L486.06,389.46 L487.10,389.46 L488.15,389.46 L489.20,389.46 L490.24,389.46 L491.29,389.46 L492.33,389.46 L493.38,389.46 L494.42,389.46 L495.47,389.46 L496.52,389.47 L497.56,389.47 L498.61,389.47 L499.65,389.47 L500.70,389.47 L501.74,389.47 L502.79,389.47 L503.83,389.47 L504.88,389.47 L505.93,389.47 L506.97,389.47 L508.02,389.47 L509.06,389.47 L510.11,389.47 L511.15,389.47 L512.20,389.48 L513.24,389.48 L514.29,389.48 L515.34,389.48 L516.38,389.48 L517.43,389.48 L518.47,389.48 L519.52,389.48 L520.56,389.48 L521.61,389.48 L522.66,389.48 L523.70,389.48 L524.75,389.48 L525.79,389.48 L526.84,389.48 L527.88,389.48 L528.93,389.48 L529.97,389.48 L531.02,389.48 L532.07,389.48 L533.11,389.48 L534.16,389.48 L535.20,389.48 L536.25,389.49 L537.29,389.49 L538.34,389.49 L539.38,389.49 L540.43,389.49 L541.48,389.49 L542.52,389.49 L543.57,389.49 L544.61,389.49 L545.66,389.49 L546.70,389.49 L547.75,389.49 L548.80,389.49 L549.84,389.49 L550.89,389.49 L551.93,389.49 L552.98,389.49 L554.02,389.49 L555.07,389.49 L556.11,389.49 L557.16,389.49 L558.21,389.49 L559.25,389.49 L560.30,389.49 L561.34,389.49 L562.39,389.49 L563.43,389.49 L564.48,389.49 L565.52,389.49 L566.57,389.49 L567.62,389.49 L568.66,389.49 L569.71,389.49 L570.75,389.49 L571.80,389.49 L572.84,389.49 L573.89,389.49 L574.94,389.49 L575.98,389.49 L577.03,389.49 L578.07,389.49 L579.12,389.49 L580.16,389.49 L581.21,389.49 L582.25,389.49 L583.30,389.49" stroke="#0010d0" stroke-width="3.6" stroke-dasharray="19.5 11.85"/>
</g>
<rect x="60.5" y="23.5" width="522.8" height="366.0" fill="none" stroke="#000" stroke-width="1.25"/>
<path d="M60.50,389.5 V379.0 M60.50,23.5 V34.0 M112.78,389.5 V384.3 M112.78,23.5 V28.7 M165.06,389.5 V379.0 M165.06,23.5 V34.0 M217.34,389.5 V384.3 M217.34,23.5 V28.7 M269.62,389.5 V379.0 M269.62,23.5 V34.0 M321.90,389.5 V384.3 M321.90,23.5 V28.7 M374.18,389.5 V379.0 M374.18,23.5 V34.0 M426.46,389.5 V384.3 M426.46,23.5 V28.7 M478.74,389.5 V379.0 M478.74,23.5 V34.0 M531.02,389.5 V384.3 M531.02,23.5 V28.7 M583.30,389.5 V379.0 M583.30,23.5 V34.0 M60.5,389.50 H71.0 M583.3,389.50 H572.8 M60.5,352.90 H65.7 M583.3,352.90 H578.0999999999999 M60.5,316.30 H71.0 M583.3,316.30 H572.8 M60.5,279.70 H65.7 M583.3,279.70 H578.0999999999999 M60.5,243.10 H71.0 M583.3,243.10 H572.8 M60.5,206.50 H65.7 M583.3,206.50 H578.0999999999999 M60.5,169.90 H71.0 M583.3,169.90 H572.8 M60.5,133.30 H65.7 M583.3,133.30 H578.0999999999999 M60.5,96.70 H71.0 M583.3,96.70 H572.8 M60.5,60.10 H65.7 M583.3,60.10 H578.0999999999999 M60.5,23.50 H71.0 M583.3,23.50 H572.8" stroke="#000" stroke-width="1.25" fill="none"/>
<g class="t" fill="#000">
<text transform="translate(55.00,397.70) scale(0.913,1)" text-anchor="end" font-size="23">0</text>
<text transform="translate(55.00,324.50) scale(0.913,1)" text-anchor="end" font-size="23">0.2</text>
<text transform="translate(55.00,251.30) scale(0.913,1)" text-anchor="end" font-size="23">0.4</text>
<text transform="translate(55.00,178.10) scale(0.913,1)" text-anchor="end" font-size="23">0.6</text>
<text transform="translate(55.00,104.90) scale(0.913,1)" text-anchor="end" font-size="23">0.8</text>
<text transform="translate(55.00,31.70) scale(0.913,1)" text-anchor="end" font-size="23">1</text>
<text transform="translate(60.50,410.40) scale(0.913,1)" text-anchor="middle" font-size="23">0</text>
<text transform="translate(165.06,410.40) scale(0.913,1)" text-anchor="middle" font-size="23">100</text>
<text transform="translate(269.62,410.40) scale(0.913,1)" text-anchor="middle" font-size="23">200</text>
<text transform="translate(374.18,410.40) scale(0.913,1)" text-anchor="middle" font-size="23">300</text>
<text transform="translate(478.74,410.40) scale(0.913,1)" text-anchor="middle" font-size="23">400</text>
<text transform="translate(583.30,410.40) scale(0.913,1)" text-anchor="middle" font-size="23">500</text>
<text transform="translate(322.50,439.00) scale(0.917,1)" text-anchor="middle" font-size="24">Velocity [km s<tspan dx="1" dy="-13" font-size="15">-1</tspan><tspan dx="2.5" dy="13">]</tspan></text>
<text transform="translate(18.70,206.50) rotate(-90) scale(0.852,1)" text-anchor="middle" font-size="26">Cumulative Fraction of Systems (V&gt;Velocity)</text>
<text transform="translate(349.00,50.00) scale(0.917,1)" text-anchor="start" font-size="24">10% Solar Metallicity</text>
<path d="M344.5,65 H386.5" stroke="#000000" stroke-width="3.0"/>
<text transform="translate(392.00,70.40) scale(0.917,1)" text-anchor="start" font-size="24">NS/NS binary</text>
<path d="M344.5,89.5 H386.5" stroke="#e8100f" stroke-width="3.0"/>
<text transform="translate(392.00,94.90) scale(0.917,1)" text-anchor="start" font-size="24">NS/BH binary</text>
<path d="M344.5,114.5 H386.5" stroke="#f07a1c" stroke-width="3.0"/>
<text transform="translate(392.00,119.90) scale(0.917,1)" text-anchor="start" font-size="24">BH/BH binary</text>
<path d="M344.5,139.5 H386.5" stroke="#fff00a" stroke-width="3.0"/>
<text transform="translate(392.00,144.90) scale(0.917,1)" text-anchor="start" font-size="24">WD/(NS,BH) binary</text>
<path d="M344.5,164 H386.5" stroke="#10e818" stroke-width="3.0"/>
<text transform="translate(392.00,169.40) scale(0.917,1)" text-anchor="start" font-size="24">WD/WD binary</text>
<path d="M344.5,194 H386.7" stroke="#12eef8" stroke-width="3.6" stroke-dasharray="19.5 11.85"/>
<text transform="translate(392.00,203.50) scale(0.917,1)" text-anchor="start" font-size="24">Exp, 180 km s<tspan dx="1.2" dy="-12" font-size="15">-1</tspan></text>
<path d="M344.5,227.5 H386.7" stroke="#1a78f0" stroke-width="3.6" stroke-dasharray="19.5 11.85"/>
<text transform="translate(392.00,237.00) scale(0.917,1)" text-anchor="start" font-size="24">Exp, 90 km s<tspan dx="1.2" dy="-12" font-size="15">-1</tspan></text>
<path d="M344.5,260.5 H386.7" stroke="#0010d0" stroke-width="3.6" stroke-dasharray="19.5 11.85"/>
<text transform="translate(392.00,270.00) scale(0.917,1)" text-anchor="start" font-size="24">Exp, 45 km s<tspan dx="1.2" dy="-12" font-size="15">-1</tspan></text>
</g>
</svg></body></html>
